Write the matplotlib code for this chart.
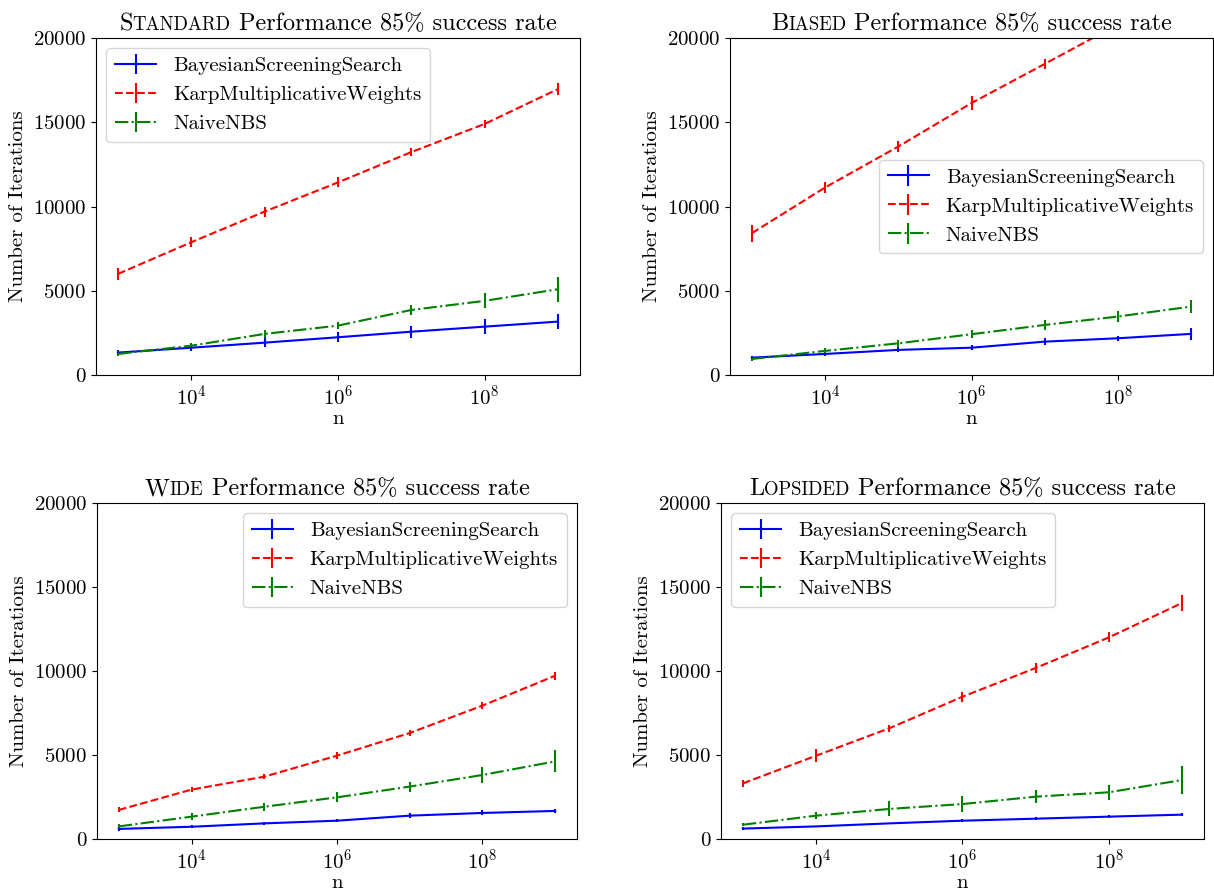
import numpy as np
import matplotlib
matplotlib.use('Agg')
import matplotlib.pyplot as plt
from matplotlib.offsetbox import TextArea, HPacker, AnchoredOffsetbox

plt.rcParams['font.family'] = 'cmr10'
plt.rcParams['mathtext.fontset'] = 'cm'
plt.rcParams['axes.formatter.use_mathtext'] = True

# n values (10^3 .. 10^9)
n = [1e3, 1e4, 1e5, 1e6, 1e7, 1e8, 1e9]
algos = ['BayesianScreeningSearch', 'KarpMultiplicativeWeights', 'NaiveNBS']

# Standard
std_bss = [1330, 1620, 1920, 2240, 2570, 2870, 3170]
std_bss_err = [150, 200, 250, 300, 350, 450, 450]
std_kmw = [6000, 7880, 9700, 11430, 13230, 14900, 16970]
std_kmw_err = [370, 300, 300, 300, 250, 250, 330]
std_nbs = [1250, 1740, 2440, 2930, 3860, 4400, 5090]
std_nbs_err = [150, 150, 250, 200, 320, 450, 740]

# Biased
bia_bss = [1030, 1250, 1490, 1620, 1980, 2180, 2440]
bia_bss_err = [100, 100, 150, 150, 200, 150, 350]
bia_kmw = [8420, 11130, 13560, 16140, 18460, 20800, 23200]
bia_kmw_err = [500, 350, 350, 400, 300, 300, 300]
bia_nbs = [950, 1430, 1880, 2420, 2970, 3470, 4060]
bia_nbs_err = [100, 150, 200, 250, 300, 300, 400]

# Wide
wid_bss = [600, 730, 930, 1090, 1390, 1550, 1670]
wid_bss_err = [150, 80, 80, 80, 150, 150, 100]
wid_kmw = [1730, 2940, 3710, 4960, 6310, 7940, 9720]
wid_kmw_err = [150, 150, 150, 200, 200, 200, 250]
wid_nbs = [750, 1330, 1920, 2480, 3120, 3810, 4620]
wid_nbs_err = [150, 200, 250, 300, 300, 500, 650]

# Lopsided
lop_bss = [620, 750, 930, 1090, 1210, 1330, 1450]
lop_bss_err = [100, 50, 50, 80, 80, 80, 100]
lop_kmw = [3310, 4960, 6590, 8470, 10180, 12000, 14050]
lop_kmw_err = [200, 400, 200, 300, 300, 300, 500]
lop_nbs = [850, 1390, 1790, 2080, 2520, 2780, 3510]
lop_nbs_err = [100, 200, 450, 450, 400, 450, 850]

panels = [
    ('S', 'TANDARD', [std_bss, std_kmw, std_nbs], [std_bss_err, std_kmw_err, std_nbs_err], 'upper left'),
    ('B', 'IASED', [bia_bss, bia_kmw, bia_nbs], [bia_bss_err, bia_kmw_err, bia_nbs_err], 'center right'),
    ('W', 'IDE', [wid_bss, wid_kmw, wid_nbs], [wid_bss_err, wid_kmw_err, wid_nbs_err], 'upper right'),
    ('L', 'OPSIDED', [lop_bss, lop_kmw, lop_nbs], [lop_bss_err, lop_kmw_err, lop_nbs_err], 'upper left'),
]

# axes rectangles in pixels (left, top, right, bottom)
W, H = 1214, 892
rects = [(96, 38, 580, 375), (730, 38, 1213, 375),
         (97, 503, 577, 839), (721, 503, 1204, 839)]

colors = ['blue', 'red', 'green']
styles = ['-', '--', '-.']
fs = 15

fig = plt.figure(figsize=(W / 100, H / 100), dpi=100)

for (first, rest, ys, errs, loc), (l, t, r, b) in zip(panels, rects):
    ax = fig.add_axes([l / W, 1 - b / H, (r - l) / W, (b - t) / H])
    for name, y, e, c, ls in zip(algos, ys, errs, colors, styles):
        ax.errorbar(n, y, yerr=e, color=c, linestyle=ls, linewidth=1.5,
                    elinewidth=1.5, capsize=0, label=name)
    ax.set_xscale('log')
    ax.set_xlim(10 ** 2.7, 10 ** 9.3)
    ax.set_ylim(0, 20000)
    ax.set_xticks([1e4, 1e6, 1e8])
    ax.xaxis.set_minor_locator(matplotlib.ticker.NullLocator())
    ax.set_yticks([0, 5000, 10000, 15000, 20000])
    ax.tick_params(labelsize=fs)
    ax.set_xlabel('n', fontsize=fs, labelpad=1)
    ax.set_ylabel('Number of Iterations', fontsize=fs)
    ax.legend(loc=loc, fontsize=fs)

    # small-caps style title
    parts = [TextArea(first, textprops=dict(fontsize=17.5, family='cmr10')),
             TextArea(rest, textprops=dict(fontsize=13.5, family='cmr10')),
             TextArea(' ', textprops=dict(fontsize=17.5, family='cmr10')),
             TextArea('Performance 85% success rate', textprops=dict(fontsize=17.5, family='cmr10'))]
    pack = HPacker(children=parts, align='baseline', pad=0, sep=0)
    box = AnchoredOffsetbox(loc='lower center', child=pack, pad=0.2, frameon=False,
                            bbox_to_anchor=(0.5, 1.0), bbox_transform=ax.transAxes,
                            borderpad=0)
    ax.add_artist(box)

fig.savefig('out.png', dpi=100)
